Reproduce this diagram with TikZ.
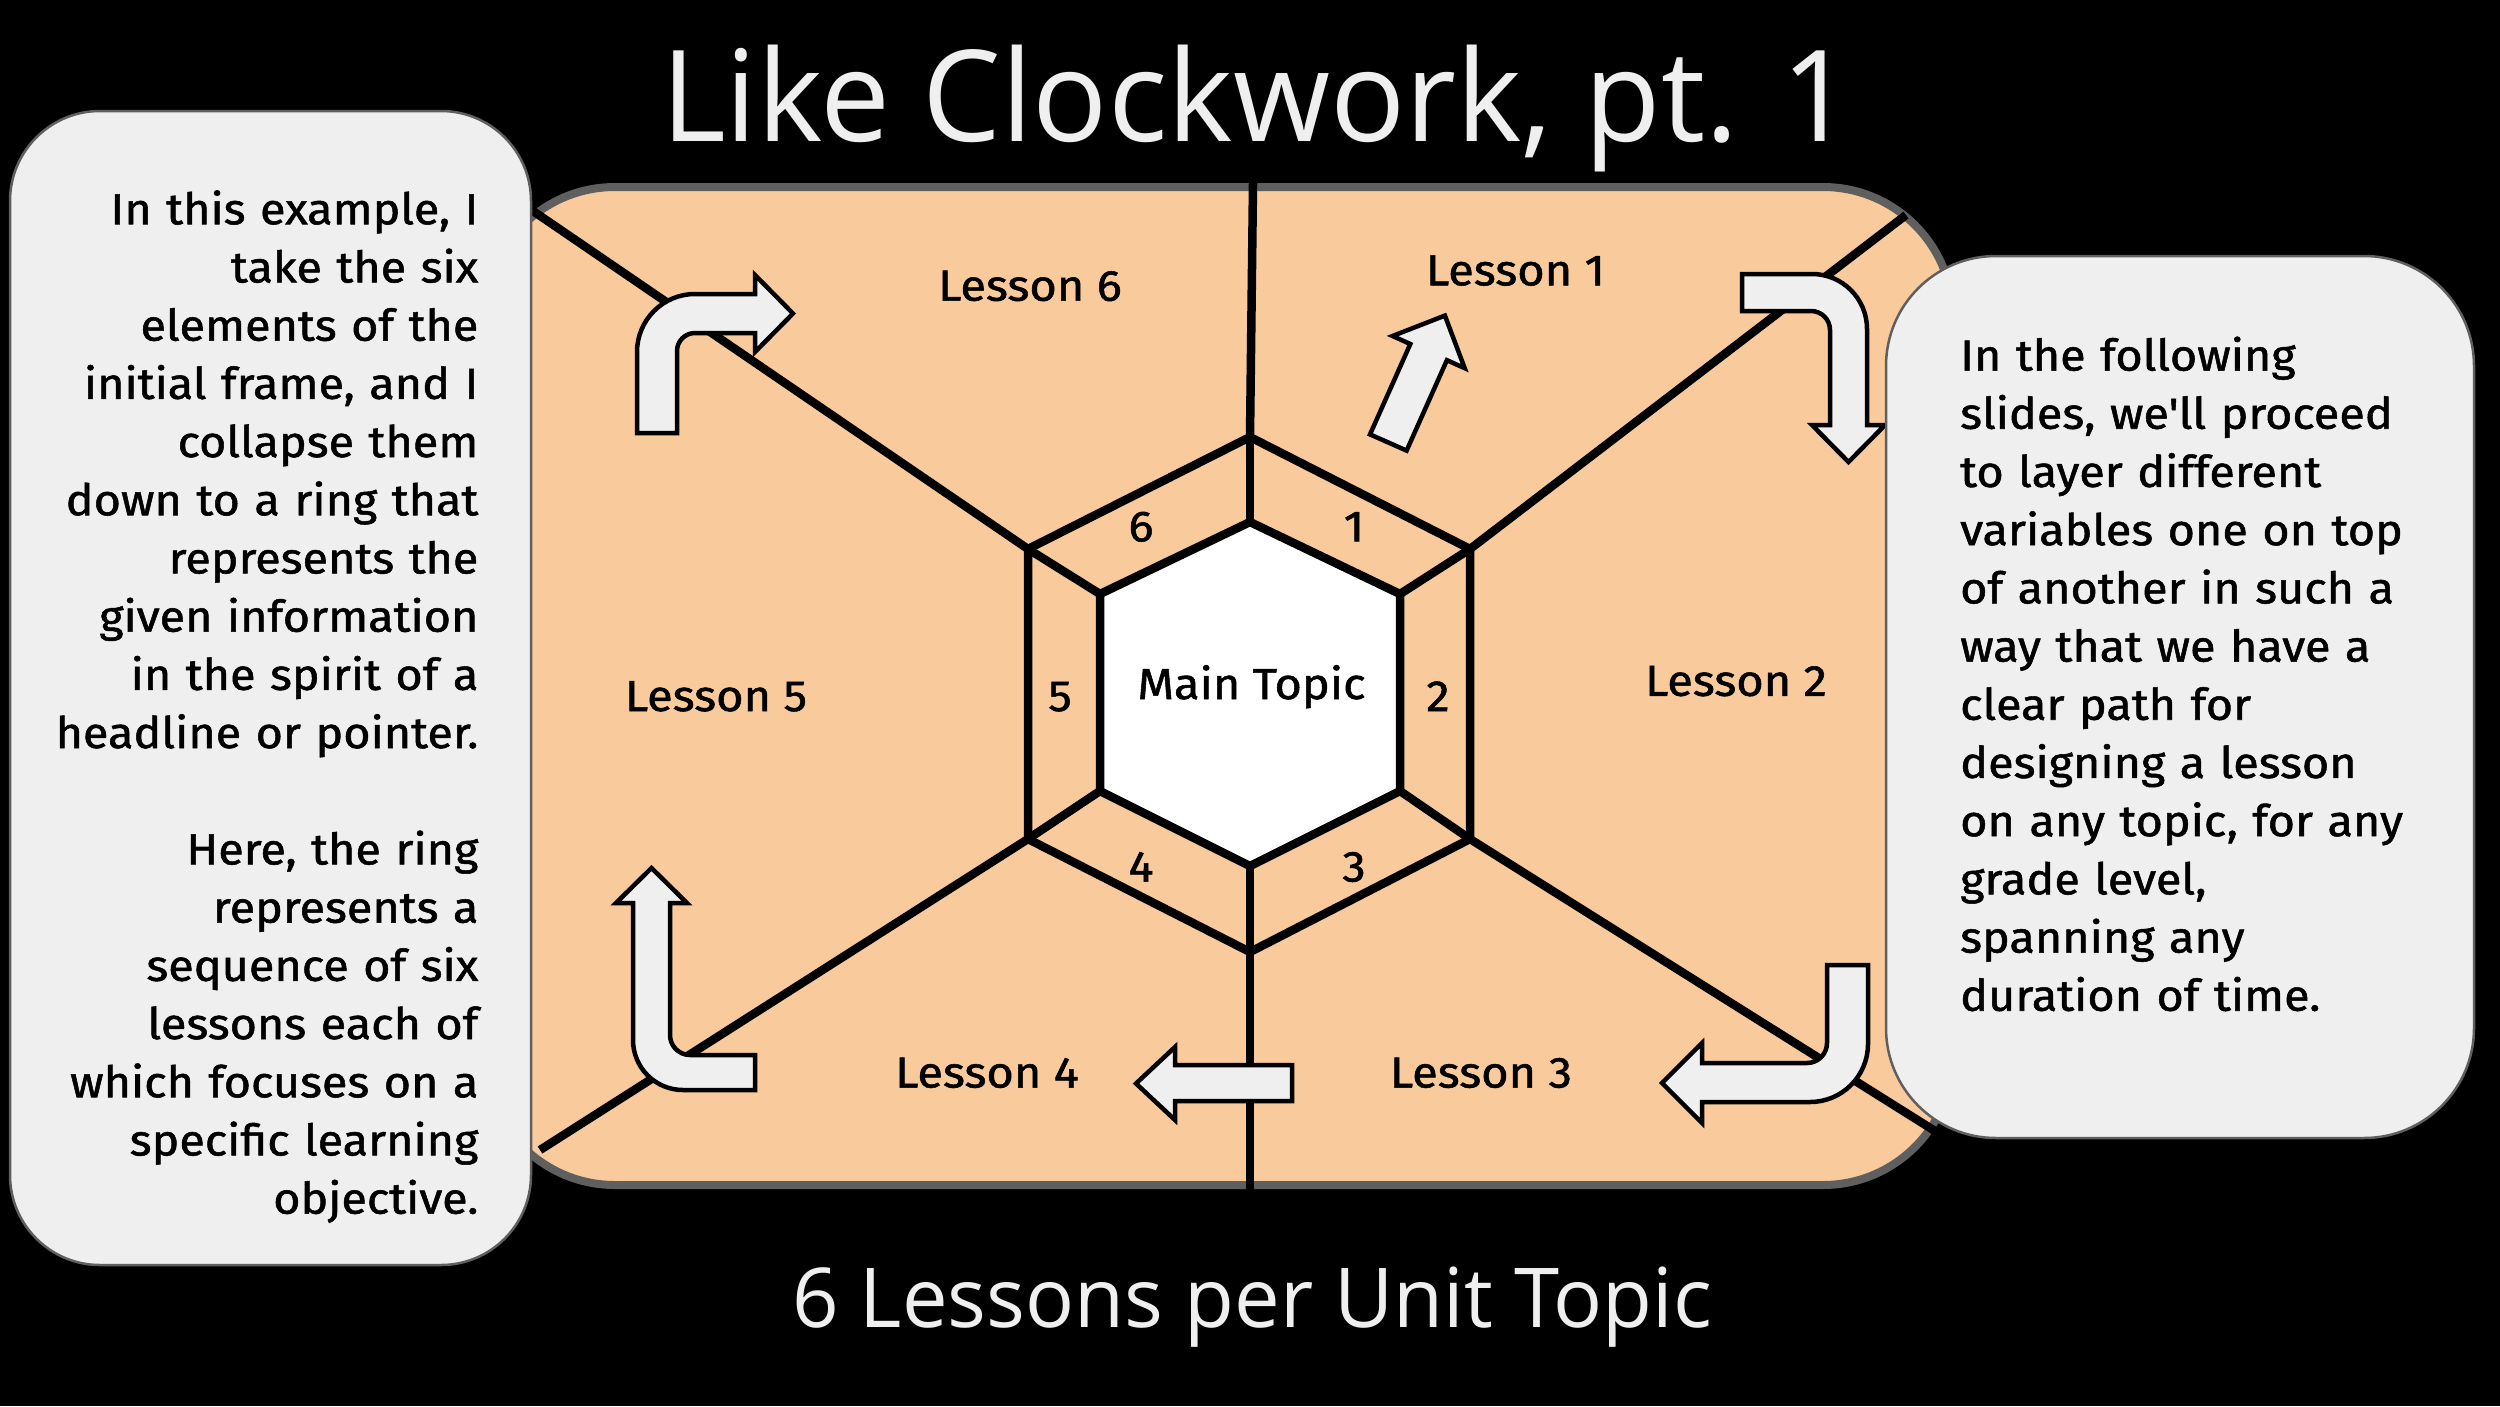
\documentclass[tikz,border=0pt]{standalone}
\usepackage{fontspec}
\setmainfont{Fira Sans}
\newfontfamily\bodyfont[FakeStretch=1.075,FakeBold=1.2]{Fira Sans}
\newfontfamily\lessonfont[FakeStretch=1.08,FakeBold=1.2]{Fira Sans}
\newfontfamily\titlefont[FakeStretch=0.982]{Open Sans}
\newfontfamily\subtitlefont[FakeStretch=0.985]{Open Sans}
\definecolor{peach}{HTML}{F9CB9C}
\definecolor{boxgray}{HTML}{EFEFEF}
\definecolor{framegray}{HTML}{5F5F5F}
\definecolor{lighttext}{HTML}{EFEFEF}
\tikzset{
  frameshape/.style={fill=peach, draw=framegray, line width=8pt, rounded corners=130pt},
  infobox/.style={fill=boxgray, draw=framegray, line width=2.5pt},
  hexline/.style={draw=black, line width=8.5pt, line join=miter},
  spoke/.style={draw=black, line width=8.5pt, line cap=butt},
  blockarrow/.style={fill=boxgray, draw=black, line width=4.5pt, line join=miter},
  lessonlabel/.style={anchor=base, inner sep=0pt, font=\lessonfont\fontsize{43.5}{52}\selectfont, text=black},
  numlabel/.style={anchor=base, inner sep=0pt, font=\lessonfont\fontsize{43.5}{52}\selectfont, text=black},
  bodytext/.style={inner sep=0pt, font=\bodyfont\fontsize{43.5}{58.2}\selectfont, text=black},
}
\begin{document}
\begin{tikzpicture}[x=1pt,y=-1pt]
\useasboundingbox (0,0) rectangle (2500,1406);
\fill[black] (0,0) rectangle (2500,1406);

% main frame
\path[frameshape] (485,187) rectangle (1953,1185);

% hexagon coordinates
\coordinate (it1) at (1250,522);
\coordinate (it2) at (1400,594);
\coordinate (it3) at (1400,791);
\coordinate (it4) at (1250,866);
\coordinate (it5) at (1100,791);
\coordinate (it6) at (1100,594);
\coordinate (ot1) at (1250,437);
\coordinate (ot2) at (1470,549);
\coordinate (ot3) at (1470,839);
\coordinate (ot4) at (1250,952);
\coordinate (ot5) at (1028,839);
\coordinate (ot6) at (1028,549);
\coordinate (e1) at (1253,183);
\coordinate (e2) at (1906,215);
\coordinate (e3) at (1935,1131);
\coordinate (e4) at (1250,1190);
\coordinate (e5) at (540,1150);
\coordinate (e6) at (533,211);

% outer spokes
\foreach \i in {1,...,6} {\draw[spoke] (ot\i) -- (e\i);}
% ring spokes
\foreach \i in {1,...,6} {\draw[spoke] (it\i) -- (ot\i);}
% outer hexagon
\draw[hexline] (ot1) -- (ot2) -- (ot3) -- (ot4) -- (ot5) -- (ot6) -- cycle;
% inner hexagon
\draw[hexline, fill=white] (it1) -- (it2) -- (it3) -- (it4) -- (it5) -- (it6) -- cycle;

% block arrows
% upper left: up then right
\draw[blockarrow] (637,433) -- (637,352) arc[start angle=180,end angle=270,radius=58]
  -- (755,294) -- (755,275) -- (793,313.5) -- (755,352) -- (755,333) -- (695,333)
  arc[start angle=270,end angle=180,radius=18] -- (677,433) -- cycle;
% upper right: right then down
\draw[blockarrow] (1742,274) -- (1812,274) arc[start angle=270,end angle=360,radius=55]
  -- (1867,425) -- (1885,425) -- (1848.5,462) -- (1812,425) -- (1830,425) -- (1830,330)
  arc[start angle=0,end angle=-90,radius=19] -- (1742,311) -- cycle;
% lower right: down then left
\draw[blockarrow] (1827,965) -- (1868,965) -- (1868,1044) arc[start angle=0,end angle=90,radius=58]
  -- (1702,1102) -- (1702,1123) -- (1662,1083) -- (1702,1043) -- (1702,1063) -- (1807,1063)
  arc[start angle=90,end angle=0,radius=20] -- cycle;
% lower left: left then up
\draw[blockarrow] (755,1055) -- (755,1090) -- (683,1090) arc[start angle=90,end angle=180,radius=50]
  -- (633,903) -- (616,903) -- (651.5,868) -- (687,903) -- (670,903) -- (670,1035)
  arc[start angle=180,end angle=90,radius=20] -- cycle;
% bottom straight arrow
\draw[blockarrow] (1292,1065) -- (1292,1101) -- (1175,1101) -- (1175,1120) -- (1136,1083.5)
  -- (1175,1047) -- (1175,1065) -- cycle;
% tilted arrow
\draw[blockarrow] (1370,434.4) -- (1410.3,344) -- (1392.5,336) -- (1444.9,315.6)
  -- (1464.7,368.2) -- (1446.9,360.2) -- (1406.6,450.6) -- cycle;

% side boxes
\draw[infobox, rounded corners=90pt] (10,111) rectangle (531,1265);
\draw[infobox, rounded corners=110pt] (1886,256) rectangle (2474,1138);

% labels
\node[lessonlabel] (l6) at (1030,300.7) {Lesson 6};
\node[lessonlabel] (l1) at (1515.5,285.3) {Lesson 1};
\node[lessonlabel] (l2) at (1736,695.8) {Lesson 2};
\node[lessonlabel] (l5) at (716,711) {Lesson 5};
\node[lessonlabel] (l4) at (987,1087.5) {Lesson 4};
\node[lessonlabel] (l3) at (1481,1087.5) {Lesson 3};
\node[lessonlabel] (main) at (1251.5,699) {Main Topic};
\node[numlabel] (n6) at (1141,541.3) {6};
\node[numlabel] (n1) at (1354,541.3) {1};
\node[numlabel] (n2) at (1438,711) {2};
\node[numlabel] (n5) at (1060,711) {5};
\node[numlabel] (n4) at (1141,881.5) {4};
\node[numlabel] (n3) at (1354,881.5) {3};

\node[bodytext, anchor=north east, align=right, text width=500pt] (lefttext) at (478.6,183.3)
{\strut In this example, I\\ take the six\\ elements of the\\ initial frame, and I\\ collapse them\\ down to a ring that\\ represents the\\ given information\\ in the spirit of a\\ headline or pointer.\\[58.2pt]
Here, the ring\\ represents a\\ sequence of six\\ lessons each of\\ which focuses on a\\ specific learning\\ objective.};

\node[bodytext, anchor=north west, align=left, text width=510pt] (righttext) at (1960,329.6)
{\strut In the following\\ slides, we'll proceed\\ to layer different\\ variables one on top\\ of another in such a\\ way that we have a\\ clear path for\\ designing a lesson\\ on any topic, for any\\ grade level,\\ spanning any\\ duration of time.};

\node[anchor=base, inner sep=0pt, text=lighttext, font=\titlefont\fontsize{127}{150}\selectfont] (title) at (1257,141) {Like Clockwork, pt. 1};
\node[anchor=base, inner sep=0pt, text=lighttext, font=\subtitlefont\fontsize{82.6}{100}\selectfont] (subtitle) at (1252,1327.3) {6 Lessons per Unit Topic};
\end{tikzpicture}
\end{document}
